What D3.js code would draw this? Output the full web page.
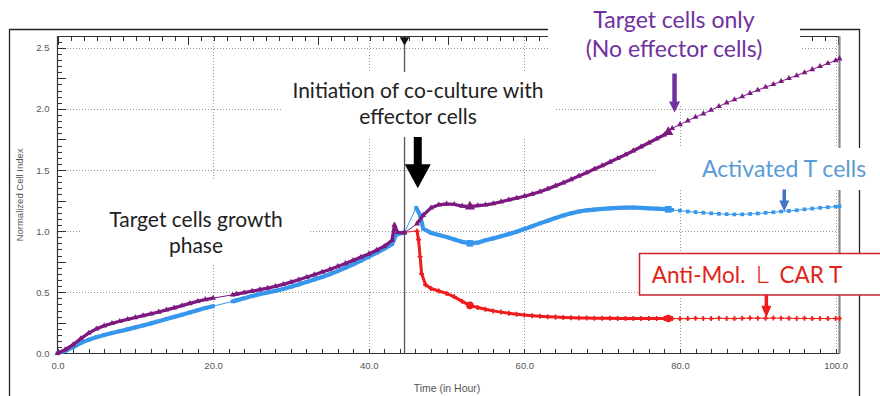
<!DOCTYPE html>
<html lang="en">
<head>
<meta charset="UTF-8">
<title>Normalized Cell Index</title>
<style>
  body{margin:0;background:#fff;}
  .axis path{display:none;}
  .axis line{stroke:#333;shape-rendering:crispEdges;}
  .axis text{fill:#555;font-family:"Liberation Sans",Arial,sans-serif;font-size:9.5px;}
  .grid line{stroke:#999;stroke-dasharray:1,2;shape-rendering:crispEdges;}
  .note{font-family:Lato,"Open Sans",sans-serif;text-anchor:middle;}
</style>
<script src="https://cdn.jsdelivr.net/npm/d3@7/dist/d3.min.js"></script>
</head>
<body>
<script>
// ---- data (time in hours, normalized cell index) ----
var timeTarget = [0,1,2,3,4,5,6,7,8,9,10,11,12,13,14,15,16,17,18,19,20,
  22.5,23,24,25,26,27,28,29,30,31,32,33,34,35,36,37,38,39,40,41,42,43,43.3,43.7,44.6,
  46.2,47,48,49,50,51,52,53,54,55,56,57,58,59,60,61,62,63,64,65,66,67,68,69,70,71,72,73,74,75,76,77,78,78.5,
  79,80,81,82,83,84,85,86,87,88,89,90,91,92,93,94,95,96,97,98,99,100,100.5];
var ciTarget = [0,0.03,0.07,0.12,0.165,0.2,0.225,0.245,0.262,0.278,0.293,0.308,0.323,0.338,0.355,0.372,0.39,0.408,0.425,0.44,0.452,
  0.478,0.485,0.497,0.508,0.52,0.533,0.548,0.564,0.582,0.602,0.622,0.643,0.664,0.686,0.71,0.735,0.76,0.787,0.813,0.843,0.875,0.925,1.05,0.99,0.985,
  1.06,1.13,1.19,1.215,1.222,1.218,1.205,1.2,1.208,1.215,1.225,1.24,1.255,1.27,1.285,1.302,1.322,1.345,1.37,1.395,1.422,1.45,1.478,1.507,1.535,1.565,1.595,1.625,1.657,1.69,1.722,1.755,1.788,1.81,
  1.84,1.872,1.903,1.933,1.96,1.99,2.02,2.05,2.075,2.1,2.128,2.153,2.178,2.2,2.225,2.25,2.272,2.297,2.322,2.347,2.372,2.395,2.41];

var timeTcell = [0,1,2,3,4,5,6,7,8,9,10,11,12,13,14,15,16,17,18,19,20,
  22.5,23,24,25,26,27,28,29,30,31,32,33,34,35,36,37,38,39,40,41,42,43,43.5,44.6,
  46.1,46.6,47,48,49,50,51,52,53,54,55,56,57,58,59,60,61,62,63,64,65,66,67,68,69,70,71,72,73,74,75,76,77,78,78.5,
  79,80,81,82,83,84,85,86,87,88,89,90,91,92,93,94,95,96,97,98,99,100,100.5];
var ciTcell = [0,0.02,0.05,0.085,0.11,0.132,0.15,0.166,0.181,0.196,0.212,0.228,0.245,0.262,0.28,0.298,0.316,0.334,0.352,0.37,0.385,
  0.425,0.433,0.45,0.468,0.484,0.498,0.511,0.526,0.544,0.563,0.583,0.604,0.625,0.647,0.672,0.7,0.728,0.758,0.79,0.822,0.857,0.893,0.97,0.99,
  1.19,1.13,1.02,0.985,0.968,0.952,0.932,0.912,0.9,0.905,0.925,0.94,0.957,0.975,0.995,1.017,1.04,1.063,1.085,1.107,1.127,1.145,1.16,1.17,1.176,1.181,1.186,1.19,1.192,1.193,1.19,1.186,1.183,1.18,1.178,
  1.173,1.167,1.16,1.155,1.15,1.145,1.141,1.138,1.136,1.137,1.14,1.144,1.149,1.154,1.16,1.165,1.17,1.178,1.184,1.19,1.195,1.2,1.203];

var timeCarT = [44.6,46.2,46.4,46.6,46.8,47.3,48,49,50,51,52,53,54,55,56,57,58,59,60,61,62,63,64,65,66,67,68,69,70,71,72,73,74,75,76,77,78,78.5,
  79,80,81,82,83,84,85,86,87,88,89,90,91,92,93,94,95,96,97,98,99,100,100.5];
var ciCarT = [0.99,1.0,0.93,0.79,0.65,0.56,0.53,0.51,0.49,0.462,0.425,0.392,0.375,0.36,0.347,0.337,0.328,0.32,0.313,0.308,0.303,0.299,0.296,0.293,0.291,0.289,0.288,0.287,0.286,0.286,0.285,0.285,0.285,0.284,0.284,0.284,0.284,0.285,
  0.284,0.283,0.284,0.286,0.285,0.284,0.287,0.285,0.284,0.286,0.288,0.287,0.286,0.289,0.287,0.286,0.285,0.286,0.284,0.285,0.284,0.285,0.285];

var coCultureTime = 44.6;
var xLabelTicks = [0,20,40,60,80,100];
var yLabelTicks = [0,0.5,1.0,1.5,2.0,2.5];
var highlightTimes = [53, 78.5];

// ---- canvas ----
var width = 880, height = 396;
var svg = d3.select("body").append("svg")
    .attr("width", width).attr("height", height)
    .style("display", "block");

var plot = {left:57.5, right:839.5, top:36.5, bottom:353.3};

var xScale = d3.scaleLinear().domain([0, 100.5]).range([plot.left, plot.right]);
var yScale = d3.scaleLinear().domain([0, 2.6]).range([plot.bottom, 35.5]);
var topScale = d3.scaleLinear().domain([0, 60]).range([plot.left, 837.5]);

// grid
var grid = svg.append("g").attr("class", "grid");
grid.selectAll(".gx").data(xLabelTicks.slice(1)).enter().append("line")
    .attr("x1", function(d){return Math.round(xScale(d)) + 0.5;})
    .attr("x2", function(d){return Math.round(xScale(d)) + 0.5;})
    .attr("y1", plot.top).attr("y2", plot.bottom);
grid.selectAll(".gy").data(yLabelTicks.slice(1)).enter().append("line")
    .attr("x1", plot.left).attr("x2", plot.right - 4)
    .attr("y1", function(d){return Math.round(yScale(d)) + 0.5;})
    .attr("y2", function(d){return Math.round(yScale(d)) + 0.5;});

// co-culture start line
svg.append("line")
    .attr("x1", xScale(coCultureTime)).attr("x2", xScale(coCultureTime))
    .attr("y1", plot.top).attr("y2", plot.bottom)
    .attr("stroke", "#555").attr("stroke-width", 1.3);

// axes
svg.append("g").attr("class", "axis")
    .attr("transform", "translate(0," + plot.bottom + ")")
    .call(d3.axisBottom(xScale).tickValues(d3.range(0, 101, 2)).tickSize(-4).tickFormat(""));
svg.append("g").attr("class", "axis")
    .attr("transform", "translate(0," + plot.bottom + ")")
    .call(d3.axisBottom(xScale).tickValues(xLabelTicks).tickSize(0).tickPadding(9).tickFormat(d3.format(".1f")));

svg.append("g").attr("class", "axis")
    .attr("transform", "translate(" + plot.left + ",0)")
    .call(d3.axisLeft(yScale).tickValues(d3.range(0, 2.6, 0.05)).tickSize(-4).tickFormat(""));
svg.append("g").attr("class", "axis")
    .attr("transform", "translate(" + plot.left + ",0)")
    .call(d3.axisLeft(yScale).tickValues(d3.range(0, 2.6, 0.25)).tickSize(-8).tickFormat(""));
svg.append("g").attr("class", "axis")
    .attr("transform", "translate(" + (plot.left - 4) + ",0)")
    .call(d3.axisLeft(yScale).tickValues(yLabelTicks).tickSize(0).tickPadding(4).tickFormat(d3.format(".1f")));

svg.append("g").attr("class", "axis")
    .attr("transform", "translate(0," + plot.top + ")")
    .call(d3.axisTop(topScale).tickValues(d3.range(0, 61, 1)).tickSize(-4).tickFormat(""));
svg.append("g").attr("class", "axis")
    .attr("transform", "translate(0," + plot.top + ")")
    .call(d3.axisTop(topScale).tickValues(d3.range(0, 61, 10)).tickSize(-8).tickFormat(""));

// plot frame
svg.append("path")
    .attr("d", "M" + plot.left + "," + plot.bottom + "V" + plot.top + "H" + plot.right + "M" + plot.left + "," + (plot.bottom + 0.2) + "H" + plot.right)
    .attr("fill", "none").attr("stroke", "#333").attr("stroke-width", 1.2);
svg.append("line")
    .attr("x1", plot.right).attr("x2", plot.right).attr("y1", plot.top).attr("y2", plot.bottom)
    .attr("stroke", "#888").attr("stroke-width", 2.2);

// outer frame
svg.append("path")
    .attr("d", "M9.5,396V29.5H859.5V396")
    .attr("fill", "none").attr("stroke", "#222").attr("stroke-width", 1.3);

// marker on top axis
svg.append("path")
    .attr("d", d3.symbol().type(d3.symbolTriangle).size(40)())
    .attr("transform", "translate(" + xScale(coCultureTime) + "," + (plot.top + 3.5) + ") rotate(180)")
    .attr("fill", "#111");

// white boxes behind the annotations
var boxes = [
    [283, 72, 272, 65],
    [80, 180, 230, 85],
    [548, 0, 252, 106],
    [657, 148, 213, 42]
];
svg.selectAll(".wbox").data(boxes).enter().append("rect")
    .attr("x", function(d){return d[0];}).attr("y", function(d){return d[1];})
    .attr("width", function(d){return d[2];}).attr("height", function(d){return d[3];})
    .attr("fill", "#fff");

// ---- series ----
var series = [
    {name:"CAR T", t:timeCarT, v:ciCarT, color:"#ee1c1c", symbol:d3.symbolCross, size:14, big:d3.symbolCircle, band:3},
    {name:"T cells", t:timeTcell, v:ciTcell, color:"#3797ec", symbol:d3.symbolSquare, size:14, big:d3.symbolSquare, band:4.2},
    {name:"Target", t:timeTarget, v:ciTarget, color:"#7d1a80", symbol:d3.symbolTriangle, size:15, big:d3.symbolTriangle, band:3.3}
];

var line = d3.line()
    .x(function(d){return xScale(d.t);})
    .y(function(d){return yScale(d.v);});

series.forEach(function(s){
    var pts = s.t.map(function(t, i){return {t:t, v:s.v[i]};});
    var g = svg.append("g");

    // thin line through every reading
    g.append("path").attr("d", line(pts))
        .attr("fill", "none").attr("stroke", s.color).attr("stroke-width", 1);

    // dense sweeps (before 78.5 h) look like a thick band
    var segs = [], cur = [];
    pts.forEach(function(p, i){
        if (p.t > 78.5) return;
        if (i > 0 && p.t - pts[i-1].t > 1.2) { segs.push(cur); cur = []; }
        cur.push(p);
    });
    segs.push(cur);
    segs.forEach(function(seg){
        if (seg.length < 2) return;
        g.append("path").attr("d", line(seg))
            .attr("fill", "none").attr("stroke", s.color)
            .attr("stroke-width", s.band).attr("stroke-linejoin", "round");
    });

    g.selectAll(".m").data(pts).enter().append("path")
        .attr("d", function(d){
            var big = highlightTimes.indexOf(d.t) >= 0;
            return d3.symbol().type(big ? s.big : s.symbol).size(big ? 45 : s.size)();
        })
        .attr("transform", function(d){return "translate(" + xScale(d.t) + "," + yScale(d.v) + ")";})
        .attr("fill", s.color);
});

// ---- axis titles ----
svg.append("text")
    .attr("transform", "translate(23," + (plot.top + plot.bottom) / 2 + ") rotate(-90)")
    .attr("text-anchor", "middle")
    .attr("font-family", "Liberation Sans, Arial, sans-serif")
    .attr("font-size", 9.5).attr("fill", "#555")
    .text("Normalized Cell Index");
svg.append("text")
    .attr("x", 447).attr("y", 392)
    .attr("text-anchor", "middle")
    .attr("font-family", "Liberation Sans, Arial, sans-serif")
    .attr("font-size", 10.5).attr("fill", "#555")
    .text("Time (in Hour)");

// ---- annotations ----
function note(lines, x, y, color, size, gap){
    var t = svg.append("text").attr("class", "note")
        .attr("fill", color).attr("font-size", size);
    lines.forEach(function(l, i){
        t.append("tspan").attr("x", x).attr("y", y + i * gap).text(l);
    });
}
note(["Initiation of co-culture with", "effector cells"], 418, 98, "#222", 21, 26);
note(["Target cells growth", "phase"], 196, 227, "#222", 21, 26);
note(["Target cells only", "(No effector cells)"], 674, 28, "#7030a0", 23, 29);
note(["Activated T cells"], 784, 177, "#5b9bd5", 23, 0);

// red labelled box
svg.append("rect")
    .attr("x", 639.5).attr("y", 253.5).attr("width", 250).attr("height", 41.5)
    .attr("fill", "#fff").attr("stroke", "#c8232c").attr("stroke-width", 1.5);
var red = svg.append("text").attr("class", "note")
    .attr("x", 747).attr("y", 283).attr("fill", "#e2231a").attr("font-size", 22.5);
red.append("tspan").text("Anti-Mol. ");
red.append("tspan").attr("font-family", "Noto Sans CJK JP").attr("font-weight", 300).text("Ｌ");
red.append("tspan").text(" CAR T");

// arrows: [time, from value, to value, shaft width, head width, head length, colour]
var arrows = [
    [46.3, 1.77, 1.35, 8, 26, 24, "#000"],
    [79.3, 2.29, 1.97, 4.5, 11, 11, "#7030a0"],
    [93.4, 1.34, 1.16, 3.5, 10, 11, "#4472c4"],
    [91.1, 0.48, 0.29, 3.5, 10, 12, "#ee1c1c"]
];
svg.selectAll(".arrow").data(arrows).enter().append("path")
    .attr("d", function(a){
        var x = xScale(a[0]), y0 = yScale(a[1]), y1 = yScale(a[2]);
        var sw = a[3] / 2, hw = a[4] / 2, hy = y1 - a[5];
        return "M" + (x - sw) + "," + y0 + "H" + (x + sw) + "V" + hy + "H" + (x + hw) +
            "L" + x + "," + y1 + "L" + (x - hw) + "," + hy + "H" + (x - sw) + "Z";
    })
    .attr("fill", function(a){return a[6];});
</script>
</body>
</html>
